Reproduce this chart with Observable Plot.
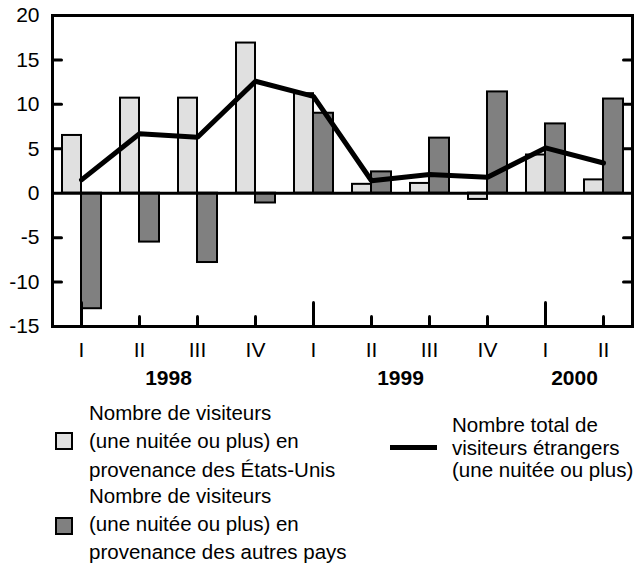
<!DOCTYPE html>
<html><head><meta charset="utf-8">
<script src="https://cdn.jsdelivr.net/npm/d3@7"></script>
<script src="https://cdn.jsdelivr.net/npm/@observablehq/plot@0.6"></script>
<style>
body{margin:0;background:#fff;font-family:Arial,"Liberation Sans",Helvetica,sans-serif;color:#000;}
#wrap{position:relative;width:636px;height:564px;overflow:hidden;}
#chart{position:absolute;left:0;top:0;}
.lg{position:absolute;font-size:20.5px;white-space:nowrap;}
.sw{position:absolute;box-sizing:border-box;width:18px;height:18px;border:2px solid #000;}
</style></head>
<body><div id="wrap"><div id="chart"></div>
<div class="sw" style="left:55px;top:432px;background:#e0e0e0"></div>
<div class="lg" style="left:89px;top:399px;line-height:28.3px">Nombre de visiteurs<br>(une nuitée ou plus) en<br>provenance des États-Unis</div>
<div class="sw" style="left:55px;top:517px;background:#808080"></div>
<div class="lg" style="left:89px;top:482px;line-height:28px">Nombre de visiteurs<br>(une nuitée ou plus) en<br>provenance des autres pays</div>
<div style="position:absolute;left:390px;top:445px;width:47px;height:5px;background:#000"></div>
<div class="lg" style="left:452px;top:414px;line-height:22.5px">Nombre total de<br>visiteurs étrangers<br>(une nuitée ou plus)</div>
</div>
<script>
const quarters = ["I","II","III","IV","I","II","III","IV","I","II"];
const years = ["1998","1998","1998","1998","1999","1999","1999","1999","2000","2000"];
const usVisitors = [6.5,10.7,10.7,16.9,11.2,1.0,1.1,-0.7,4.3,1.5];
const otherVisitors = [-13.0,-5.5,-7.8,-1.1,9.0,2.4,6.2,11.4,7.8,10.6];
const totalVisitors = [1.5,6.7,6.3,12.6,10.9,1.4,2.1,1.8,5.1,3.4];
const yTicks = [-15,-10,-5,0,5,10,15,20];
const yInnerTicks = [-10,-5,5,10,15];

const W = 636, H = 395, mL = 52, mR = 4, mT = 15, mB = 69;
const rows = quarters.map((q, i) => ({
  key: years[i] + "-" + q, q, year: years[i],
  us: usVisitors[i], other: otherVisitors[i], total: totalVisitors[i],
  yearStart: i === 0 || years[i] !== years[i - 1]
}));
const keys = rows.map(d => d.key);
const yearNames = Array.from(new Set(years));
const yearRows = yearNames.map(y => {
  const ks = rows.filter(d => d.year === y);
  return {year: y, key: ks[Math.floor((ks.length - 1) / 2)].key};
});
const halfBand = (W - mL - mR) / keys.length / 2;
const tickShape = {draw(context, l) { context.moveTo(0, 0); context.lineTo(0, -l); }};

const chart = Plot.plot({
  width: W, height: H,
  marginLeft: mL, marginRight: mR, marginTop: mT, marginBottom: mB,
  style: {fontFamily: 'Arial, "Liberation Sans", Helvetica, sans-serif', fontSize: "21px", color: "#000", background: "#fff"},
  x: {type: "band", domain: keys, padding: 0},
  y: {domain: [-15, 20]},
  marks: [
    Plot.barY(rows, {x: "key", y: "us", fill: "#e0e0e0", stroke: "#000", strokeWidth: 2, insetLeft: 10, insetRight: 29}),
    Plot.barY(rows, {x: "key", y: "other", fill: "#808080", stroke: "#000", strokeWidth: 2, insetLeft: 29, insetRight: 9}),
    Plot.ruleY([0], {stroke: "#000", strokeWidth: 3}),
    Plot.line(rows, {x: "key", y: "total", stroke: "#000", strokeWidth: 5, strokeLinejoin: "miter"}),
    Plot.frame({stroke: "#000", strokeWidth: 3}),
    Plot.vector(rows.filter(d => !d.yearStart), {x: "key", frameAnchor: "bottom", length: 10, rotate: 0, anchor: "start", shape: tickShape, stroke: "#000", strokeWidth: 3}),
    Plot.vector(rows.filter(d => d.yearStart), {x: "key", frameAnchor: "bottom", length: 24, rotate: 0, anchor: "start", shape: tickShape, stroke: "#000", strokeWidth: 3}),
    Plot.vector(yInnerTicks, {y: d => d, frameAnchor: "left", length: 9, rotate: 90, anchor: "start", shape: tickShape, stroke: "#000", strokeWidth: 3}),
    Plot.vector(yInnerTicks, {y: d => d, frameAnchor: "right", length: 9, rotate: -90, anchor: "start", shape: tickShape, stroke: "#000", strokeWidth: 3}),
    Plot.axisY({ticks: yTicks, tickSize: 0, tickPadding: 13, tickFormat: d => String(d), fontSize: 21, label: null}),
    Plot.axisX({tickSize: 0, tickPadding: 16, tickFormat: k => k.split("-")[1], fontSize: 21, label: null}),
    Plot.text(yearRows, {x: "key", text: "year", frameAnchor: "bottom", dx: halfBand, dy: 58, fontWeight: "bold", fontSize: 21})
  ]
});
document.getElementById("chart").appendChild(chart);
</script>
</body></html>
